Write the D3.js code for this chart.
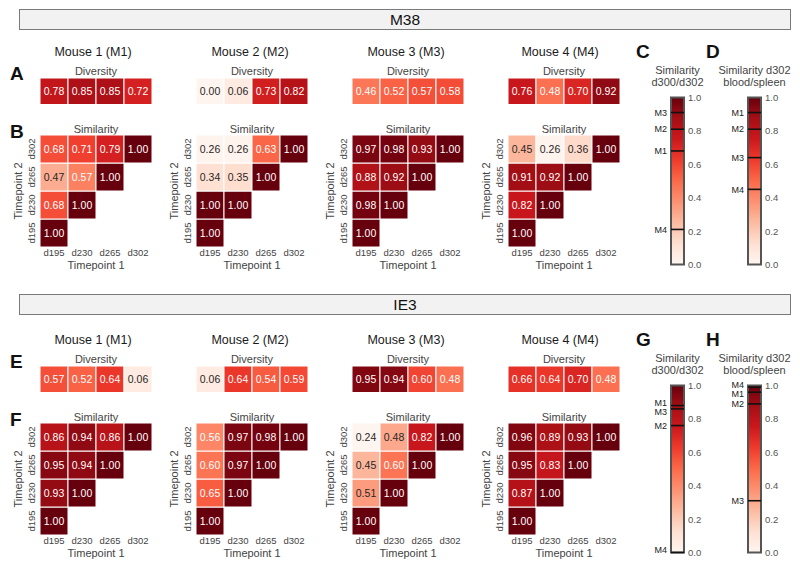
<!DOCTYPE html>
<html><head><meta charset="utf-8">
<script src="https://cdn.jsdelivr.net/npm/d3@7"></script>
<style>body{margin:0;background:#fff} svg{font-family:"Liberation Sans",Arial,Helvetica,sans-serif}</style>
</head><body><svg id="c" width="800" height="567"></svg>
<script>
const groups = ["M38", "IE3"];
const mice = ["Mouse 1 (M1)", "Mouse 2 (M2)", "Mouse 3 (M3)", "Mouse 4 (M4)"];
const mouseIds = ["M1", "M2", "M3", "M4"];
const timepoints = ["d195", "d230", "d265", "d302"];
const diversityM38 = [[0.78,0.85,0.85,0.72],[0.00,0.06,0.73,0.82],[0.46,0.52,0.57,0.58],[0.76,0.48,0.70,0.92]];
const diversityIE3 = [[0.57,0.52,0.64,0.06],[0.06,0.64,0.54,0.59],[0.95,0.94,0.60,0.48],[0.66,0.64,0.70,0.48]];
// similarity[mouse][timepoint2][timepoint1] (lower triangle)
const similarityM38 = [
  [[1.00],[0.68,1.00],[0.47,0.57,1.00],[0.68,0.71,0.79,1.00]],
  [[1.00],[1.00,1.00],[0.34,0.35,1.00],[0.26,0.26,0.63,1.00]],
  [[1.00],[0.98,1.00],[0.88,0.92,1.00],[0.97,0.98,0.93,1.00]],
  [[1.00],[0.82,1.00],[0.91,0.92,1.00],[0.45,0.26,0.36,1.00]]
];
const similarityIE3 = [
  [[1.00],[0.93,1.00],[0.95,0.94,1.00],[0.86,0.94,0.86,1.00]],
  [[1.00],[0.65,1.00],[0.60,0.97,1.00],[0.56,0.97,0.98,1.00]],
  [[1.00],[0.51,1.00],[0.45,0.60,1.00],[0.24,0.48,0.82,1.00]],
  [[1.00],[0.87,1.00],[0.95,0.83,1.00],[0.96,0.89,0.93,1.00]]
];
const simD300M38 = [0.68, 0.81, 0.91, 0.21];
const simBloodSpleenM38 = [0.91, 0.81, 0.64, 0.45];
const simD300IE3 = [0.88, 0.76, 0.86, 0.00];
const simBloodSpleenIE3 = [0.96, 0.89, 0.31, 0.99];
const cbarTicks = [0, 0.2, 0.4, 0.6, 0.8, 1.0];
const cbarTitles = [["Similarity", "d300/d302"], ["Similarity d302", "blood/spleen"]];
const panelLetters = [["A","B","C","D"], ["E","F","G","H"]];
const redsColors = ["#fff5f0","#fee0d2","#fcbba1","#fc9272","#fb6a4a","#ef3b2c","#cb181d","#a50f15","#67000d"];

const diversity = [diversityM38, diversityIE3];
const similarity = [similarityM38, similarityIE3];
const cbarData = [[simD300M38, simBloodSpleenM38], [simD300IE3, simBloodSpleenIE3]];

const svg = d3.select("#c");
const reds = d3.scaleLinear().domain(redsColors.map((c, i) => i / 8)).range(redsColors).interpolate(d3.interpolateRgb).clamp(true);
const divColor = v => reds(v);
const simNorm = d3.scaleLinear().domain([0.25, 1]).range([0, 1]).clamp(true);
const simColor = v => reds(simNorm(v));
function lum(c) {
  const o = d3.rgb(c);
  const f = x => { x /= 255; return x <= 0.03928 ? x / 12.92 : Math.pow((x + 0.055) / 1.055, 2.4); };
  return 0.2126 * f(o.r) + 0.7152 * f(o.g) + 0.0722 * f(o.b);
}
const textCol = c => lum(c) > 0.408 ? "#262626" : "#ffffff";

const defs = svg.append("defs");
const grad = defs.append("linearGradient").attr("id", "redsGrad")
  .attr("x1", 0).attr("y1", 1).attr("x2", 0).attr("y2", 0);
redsColors.forEach((c, i) => grad.append("stop").attr("offset", (i / 8 * 100) + "%").attr("stop-color", c));

const cell = 28;
const sectionDy = [0, 288];
const headerY = [9.5, 294.5];
const titleOffsets = [-3, -2, -2, -4];

groups.forEach((gname, s) => {
  const dy = sectionDy[s];
  svg.append("rect").attr("x", 19.5).attr("y", headerY[s]).attr("width", 771).attr("height", 20)
    .attr("fill", "#f2f2f2").attr("stroke", "#7a7a7a").attr("stroke-width", 1);
  svg.append("text").attr("x", 405).attr("y", headerY[s] + 15.5).attr("text-anchor", "middle")
    .attr("font-size", 15.5).attr("fill", "#111").text(gname);

  svg.append("text").attr("x", 10).attr("y", 80 + dy).attr("font-size", 19).attr("font-weight", "bold").attr("fill", "#111").text(panelLetters[s][0]);
  svg.append("text").attr("x", 10).attr("y", 138 + dy).attr("font-size", 19).attr("font-weight", "bold").attr("fill", "#111").text(panelLetters[s][1]);

  mice.forEach((mname, m) => {
    const x0 = 40 + 156 * m;
    const g = svg.append("g");
    const x = d3.scaleBand().domain(timepoints).range([x0, x0 + 4 * cell]);
    const y = d3.scaleBand().domain(timepoints.slice().reverse()).range([135 + dy, 135 + dy + 4 * cell]);

    g.append("text").attr("x", x0 + 56 + titleOffsets[m]).attr("y", 56 + dy).attr("text-anchor", "middle")
      .attr("font-size", 12.5).attr("fill", "#1a1a1a").text(mname);
    g.append("text").attr("x", x0 + 56).attr("y", 75 + dy).attr("text-anchor", "middle")
      .attr("font-size", 11).attr("fill", "#444").text("Diversity");

    const dv = diversity[s][m].map((v, i) => ({ v, t: timepoints[i] }));
    const dg = g.append("g");
    dg.selectAll("rect").data(dv).join("rect")
      .attr("x", d => x(d.t)).attr("y", 78 + dy).attr("width", x.bandwidth()).attr("height", 26.5)
      .attr("fill", d => divColor(d.v)).attr("stroke", "#fff").attr("stroke-width", 1);
    dg.selectAll("text").data(dv).join("text")
      .attr("x", d => x(d.t) + x.bandwidth() / 2).attr("y", 78 + dy + 13.25).attr("dy", "0.35em")
      .attr("text-anchor", "middle").attr("font-size", 10.5)
      .attr("fill", d => textCol(divColor(d.v))).text(d => d.v.toFixed(2));

    g.append("text").attr("x", x0 + 56).attr("y", 133 + dy).attr("text-anchor", "middle")
      .attr("font-size", 11).attr("fill", "#444").text("Similarity");
    const sv = [];
    similarity[s][m].forEach((row, i) => row.forEach((v, j) => sv.push({ v, t1: timepoints[j], t2: timepoints[i] })));
    const sg = g.append("g");
    sg.selectAll("rect").data(sv).join("rect")
      .attr("x", d => x(d.t1)).attr("y", d => y(d.t2)).attr("width", x.bandwidth()).attr("height", y.bandwidth())
      .attr("fill", d => simColor(d.v)).attr("stroke", "#fff").attr("stroke-width", 1);
    sg.selectAll("text").data(sv).join("text")
      .attr("x", d => x(d.t1) + x.bandwidth() / 2).attr("y", d => y(d.t2) + y.bandwidth() / 2).attr("dy", "0.35em")
      .attr("text-anchor", "middle").attr("font-size", 10.5)
      .attr("fill", d => textCol(simColor(d.v))).text(d => d.v.toFixed(2));

    const xa = g.append("g").attr("transform", `translate(0,${135 + dy + 4 * cell})`)
      .call(d3.axisBottom(x).tickSize(0).tickPadding(3));
    xa.select(".domain").remove();
    xa.attr("font-family", null);
    xa.selectAll("text").attr("font-size", 9.5).attr("fill", "#444").attr("dy", "0.68em");
    const ya = g.append("g").attr("transform", `translate(${x0},0)`)
      .call(d3.axisLeft(y).tickSize(0));
    ya.select(".domain").remove();
    ya.attr("font-family", null);
    ya.selectAll("text").attr("font-size", 9.5).attr("fill", "#444")
      .attr("transform", "rotate(-90)").attr("x", 0).attr("y", -5).attr("dy", 0).attr("text-anchor", "middle");

    g.append("text").attr("x", x0 + 56).attr("y", 269 + dy).attr("text-anchor", "middle")
      .attr("font-size", 11).attr("fill", "#444").text("Timepoint 1");
    g.append("text").attr("transform", `translate(${x0 - 18},${135 + dy + 2 * cell}) rotate(-90)`)
      .attr("text-anchor", "middle").attr("font-size", 11).attr("fill", "#444").text("Timepoint 2");
  });

  const barX = [671, 748];
  const letterX = [636, 706];
  cbarData[s].forEach((vals, k) => {
    const bx = barX[k], bw = 13;
    const top = 97.5 + dy, bottom = 264.5 + dy;
    const cy = d3.scaleLinear().domain([0, 1]).range([bottom, top]);
    const g = svg.append("g");
    g.append("text").attr("x", letterX[k]).attr("y", 58 + dy).attr("font-size", 19).attr("font-weight", "bold")
      .attr("fill", "#111").text(panelLetters[s][2 + k]);
    g.append("text").attr("x", bx + bw / 2).attr("y", 74 + dy).attr("text-anchor", "middle")
      .attr("font-size", 11).attr("fill", "#444").text(cbarTitles[k][0]);
    g.append("text").attr("x", bx + bw / 2).attr("y", 86 + dy).attr("text-anchor", "middle")
      .attr("font-size", 11).attr("fill", "#444").text(cbarTitles[k][1]);
    g.append("rect").attr("x", bx).attr("y", top).attr("width", bw).attr("height", bottom - top)
      .attr("fill", "url(#redsGrad)").attr("stroke", "#555").attr("stroke-width", 2);
    const ax = g.append("g").attr("transform", `translate(${bx + bw},0)`)
      .call(d3.axisRight(cy).tickValues(cbarTicks).tickFormat(d3.format(".1f")).tickSize(0).tickPadding(4));
    ax.select(".domain").remove();
    ax.attr("font-family", null);
    ax.selectAll("text").attr("font-size", 9.5).attr("fill", "#555");

    const marks = vals.map((v, i) => ({ v, id: mouseIds[i], y: cy(v) }));
    g.selectAll("line.mk").data(marks).join("line").attr("class", "mk")
      .attr("x1", bx).attr("x2", bx + bw).attr("y1", d => d.y).attr("y2", d => d.y)
      .attr("stroke", "#111").attr("stroke-width", 1.6);
    const sorted = marks.slice().sort((a, b) => a.y - b.y);
    sorted.forEach(d => d.ly = Math.min(d.y, bottom - 3));
    const minGap = 9;
    for (let it = 0; it < 30; it++) {
      for (let i = 1; i < sorted.length; i++) {
        const gap = sorted[i].ly - sorted[i - 1].ly;
        if (gap < minGap) { const p = (minGap - gap) / 2; sorted[i].ly += p; sorted[i - 1].ly -= p; }
      }
    }
    g.selectAll("text.ml").data(marks).join("text").attr("class", "ml")
      .attr("x", bx - 4).attr("y", d => d.ly).attr("dy", "0.35em").attr("text-anchor", "end")
      .attr("font-size", 9).attr("fill", "#222").text(d => d.id);
  });
});
</script>
</body></html>
